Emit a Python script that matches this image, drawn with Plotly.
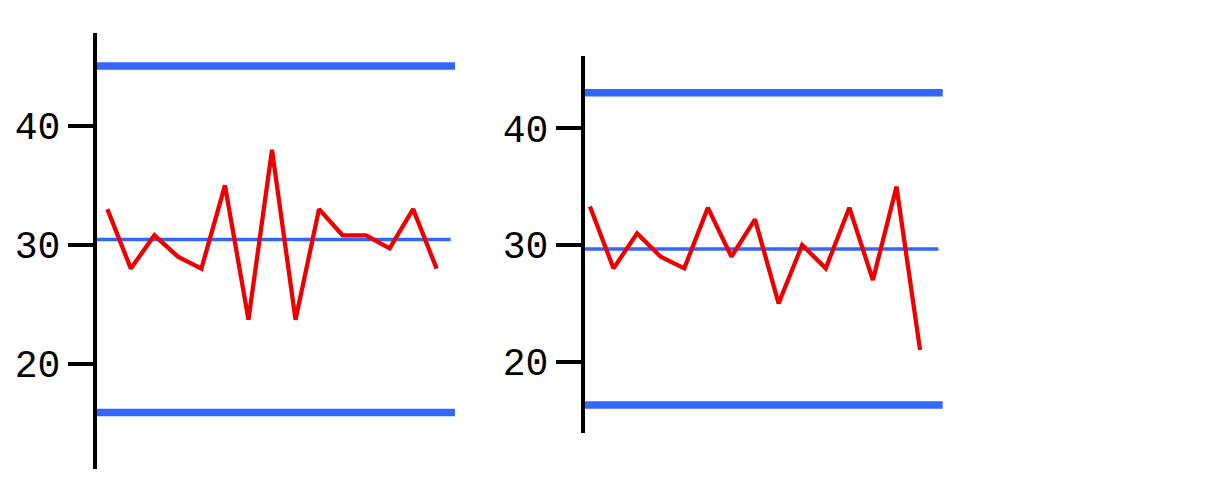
import plotly.graph_objects as go

W, H = 1230, 480
OFF = 8  # page margin the browser adds around the figure

# sample numbers along the x axis
SAMPLES = list(range(1, 16))

# left chart
LEFT_VALUES = [33, 28, 30.8, 29, 28, 35, 23.7, 38, 23.7, 33, 30.8, 30.8, 29.7, 33, 28]
LEFT_UCL = 45.05
LEFT_CENTER = 30.45
LEFT_LCL = 15.9

# right chart
RIGHT_VALUES = [33.3, 28, 31, 29, 28, 33.2, 29, 32.2, 25, 30, 28, 33.2, 27, 35, 21]
RIGHT_UCL = 43.05
RIGHT_CENTER = 29.66
RIGHT_LCL = 16.29

TICK_VALS = [20, 30, 40]

RED = "#ee0000"
BLUE = "#3366ff"
FONT = "Liberation Mono"


def x_dom(a, b):
    return [(a - OFF) / W, (b - OFF) / W]


def y_dom(top, bottom):
    return [(H - (bottom - OFF)) / H, (H - (top - OFF)) / H]


def y_axis(domain, rng, anchor):
    return dict(
        domain=domain, range=rng, anchor=anchor,
        showline=True, linecolor="black", linewidth=4,
        ticks="outside", ticklen=25, tickwidth=4, tickcolor="black",
        tickvals=TICK_VALS, showgrid=False, zeroline=False,
        tickfont=dict(family=FONT, size=38, color="black"),
    )


def x_axis(domain, rng, anchor):
    return dict(domain=domain, range=rng, anchor=anchor, visible=False,
                showgrid=False, zeroline=False)


def limit_shapes(xref, yref, ucl, center, lcl):
    # control limits span the whole panel, the centre line stops a bit short
    shapes = []
    for val in (ucl, lcl):
        shapes.append(dict(type="line", xref=xref + " domain", yref=yref,
                           x0=0, x1=1, y0=val, y1=val, layer="below",
                           line=dict(color=BLUE, width=7.5)))
    shapes.append(dict(type="line", xref=xref + " domain", yref=yref,
                       x0=0, x1=0.988, y0=center, y1=center, layer="below",
                       line=dict(color=BLUE, width=3.5)))
    return shapes


fig = go.Figure()

fig.add_trace(go.Scatter(x=SAMPLES, y=LEFT_VALUES, mode="lines",
                         line=dict(color=RED, width=4.3), xaxis="x", yaxis="y",
                         showlegend=False))
fig.add_trace(go.Scatter(x=SAMPLES, y=RIGHT_VALUES, mode="lines",
                         line=dict(color=RED, width=4.3), xaxis="x2", yaxis="y2",
                         showlegend=False))

shapes = limit_shapes("x", "y", LEFT_UCL, LEFT_CENTER, LEFT_LCL)
shapes += limit_shapes("x2", "y2", RIGHT_UCL, RIGHT_CENTER, RIGHT_LCL)

fig.update_layout(
    width=W, height=H,
    margin=dict(l=0, r=0, t=0, b=0),
    paper_bgcolor="white", plot_bgcolor="white",
    xaxis=x_axis(x_dom(97, 455), [0.56, 15.78], "y"),
    yaxis=y_axis(y_dom(33, 469), [11.14, 47.82], "x"),
    xaxis2=x_axis(x_dom(585, 942.7), [0.79, 15.96], "y2"),
    yaxis2=y_axis(y_dom(56, 433), [13.89, 46.2], "x2"),
    shapes=shapes,
)

fig.write_html("out.html")
